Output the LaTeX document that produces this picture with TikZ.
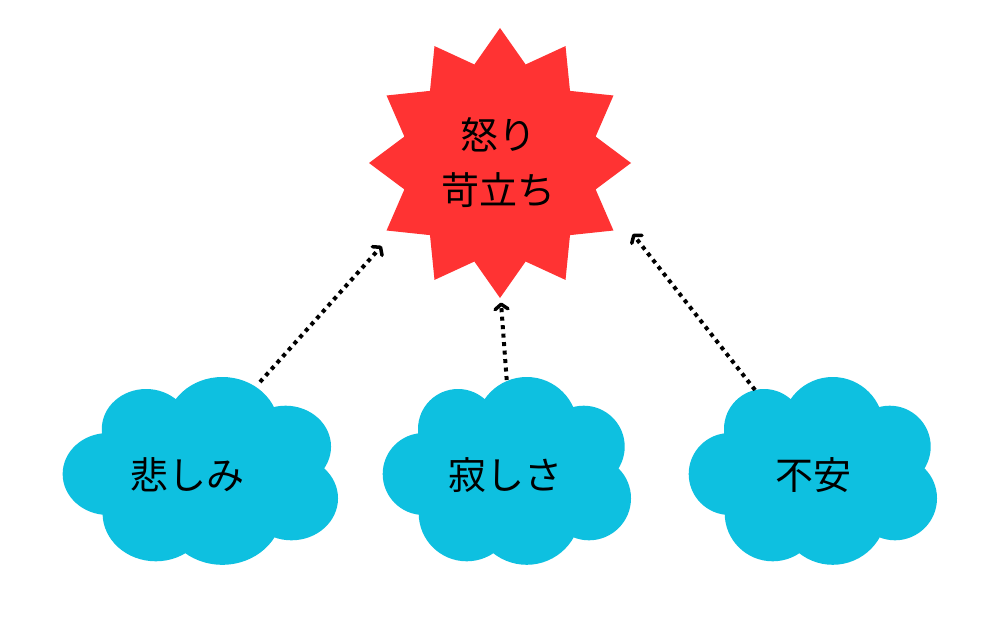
\documentclass[tikz,border=0pt]{standalone}
\usepackage{fontspec}
\newfontfamily\jp{Noto Sans CJK JP}
\usetikzlibrary{arrows.meta}
\definecolor{starred}{RGB}{255,51,51}
\definecolor{cloudblue}{RGB}{14,192,224}
\tikzset{
  cloudpic/.pic={
    \fill[cloudblue]
      (-83.3,3) circle[radius=41pt]
      (-49,-42) circle[radius=40pt]
      (19.7,-43) circle[radius=51pt]
      (76.7,-24.3) circle[radius=41pt]
      (82,27.3) circle[radius=42pt]
      (19.7,39.8) circle[radius=54pt]
      (-40.3,42.3) circle[radius=48pt]
      (0,0) ellipse[x radius=95pt, y radius=55pt];
  },
  lbl/.style={font=\jp\fontsize{38}{55}\selectfont, text=black, inner sep=0pt, align=center},
  infl/.style={line width=4pt, dash pattern=on 4pt off 4.5pt, draw=black,
    -{Straight Barb[length=5pt,width=13pt,line width=3.5pt,line join=round,line cap=round]}}
}
\begin{document}
\begin{tikzpicture}[x=1pt,y=-1pt]
\fill[white] (0,0) rectangle (1000,628);
\useasboundingbox (0,0) rectangle (1000,628);
% starburst
\fill[starred] plot[samples at={0,...,23}, variable=\k]
  ({(mod(\k,2)==0 ? 131 : 99)*cos(90+15*\k)+500},
   {(mod(\k,2)==0 ? 135 : 102)*sin(90+15*\k)+163}) -- cycle;
\node[lbl] (anger) at (498,163) {怒り\\苛立ち};
% clouds
\pic[xscale=1.109] at (200.5,471) {cloudpic};
\pic at (507,471) {cloudpic};
\pic at (813,471) {cloudpic};
\node[lbl] (sad) at (187,475) {悲しみ};
\node[lbl] (lonely) at (505,475) {寂しさ};
\node[lbl] (anxiety) at (813,475) {不安};
% connector end points
\coordinate (s1) at (260,382);
\coordinate (e1) at (381.7,246);
\coordinate (s2) at (506.7,380);
\coordinate (e2) at (501,302.5);
\coordinate (s3) at (755,390);
\coordinate (e3) at (632.7,234);
\draw[infl] (s1) -- (e1);
\draw[infl] (s2) -- (e2);
\draw[infl] (s3) -- (e3);
\end{tikzpicture}
\end{document}
